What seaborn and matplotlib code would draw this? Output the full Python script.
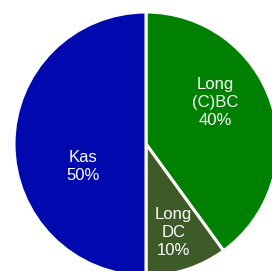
import matplotlib
matplotlib.use("Agg")
import matplotlib.pyplot as plt
import seaborn as sns
import numpy as np

categories = ["Long (C)BC", "Long DC", "Kas"]
label_text = ["Long\n(C)BC", "Long\nDC", "Kas"]
values = [40, 10, 50]
colors = ["#008000", "#3D5A27", "#0009AE"]

sns.set_style("white")
plt.rcParams['font.family'] = ['Liberation Sans', 'DejaVu Sans']

W, H = 272, 271
fig = plt.figure(figsize=(W / 100, H / 100), dpi=100)
ax = fig.add_axes([0, 0, 1, 1])
cx, cy, R = 146, H - 144, 132

wedges, _ = ax.pie(values, colors=colors, startangle=90, counterclock=False,
                   center=(cx, cy), radius=R,
                   wedgeprops=dict(edgecolor="white", linewidth=2.2))

# label placement (angle in degrees, radius fraction)
placements = [(31, 0.615), (-73, 0.705), (200, 0.505)]
for txt, v, (ang, rf) in zip(label_text, values, placements):
    a = np.deg2rad(ang)
    ax.text(cx + rf * R * np.cos(a), cy + rf * R * np.sin(a), f"{txt}\n{v}%",
            ha="center", va="center", color="white", fontsize=12,
            linespacing=1.25)

ax.set_xlim(0, W)
ax.set_ylim(0, H)
ax.set_aspect("equal")
ax.axis("off")
fig.savefig("out.png", dpi=100)
